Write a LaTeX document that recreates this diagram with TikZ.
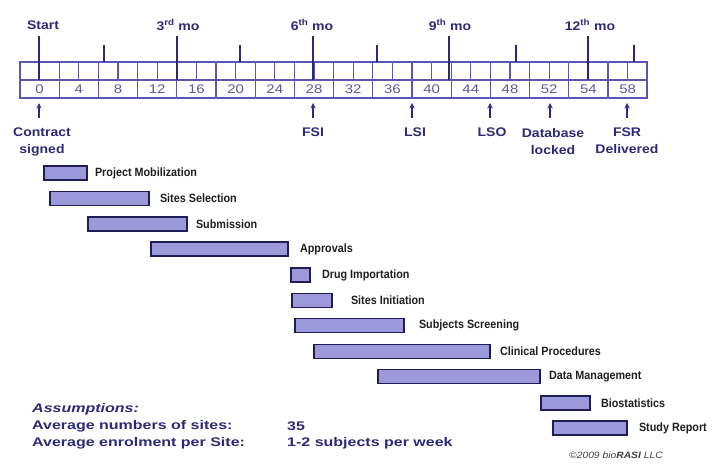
\documentclass[tikz,border=0pt]{standalone}
\usepackage{fontspec}
\setmainfont{Liberation Sans}
\newfontfamily\headfont[FakeStretch=1.12]{Liberation Sans}
\newfontfamily\asmfont[FakeStretch=1.28]{Liberation Sans}
\newfontfamily\numfont[FakeStretch=1.2]{Liberation Sans}
\newfontfamily\barfont[FakeStretch=0.9]{Liberation Sans}
\usepackage{tikz}
\usetikzlibrary{positioning}
\usetikzlibrary{arrows}
\definecolor{navy}{HTML}{2A2A78}
\definecolor{gridblue}{HTML}{5B56B0}
\definecolor{numblue}{HTML}{5A5A9E}
\definecolor{barfill}{HTML}{9C99DA}
\definecolor{barline}{HTML}{1F1D55}
\tikzstyle{arrow} = [thick,->,>=stealth,draw=navy,line width=1.4pt]
\tikzstyle{grid} = [draw=gridblue,line width=1.2pt]
\tikzstyle{tick} = [draw=navy,line width=1.6pt]
\tikzstyle{head} = [text=navy,inner sep=0pt,font=\headfont\bfseries\fontsize{12.5}{17}\selectfont]
\tikzstyle{milestone} = [head,align=center,anchor=north]
\tikzstyle{cellnum} = [text=numblue,inner sep=0pt,font=\numfont\fontsize{12.5}{14}\selectfont]
\tikzstyle{bar} = [draw=barline,fill=barfill,line width=1.8pt,minimum height=14pt,inner sep=0pt,anchor=west]
\tikzstyle{task} = [text=black!88,inner sep=0pt,font=\barfont\bfseries\fontsize{12}{14}\selectfont]
\tikzstyle{asm} = [text=navy,inner sep=0pt,anchor=west,font=\asmfont\bfseries\fontsize{12.5}{14}\selectfont]

\begin{document}
\begin{tikzpicture}[x=1pt,y=-1pt]
  \useasboundingbox (0,0) rectangle (722,467);

  % Time scale
  \draw[grid] (20,62) rectangle (647,98);
  \draw[grid] (20,80) -- (647,80);
  \foreach \i in {1,...,31}
    \draw[grid] (20+19.6*\i,62) -- (20+19.6*\i,80);
  \foreach \i in {1,...,15}
    \draw[grid] (20+39.2*\i,80) -- (20+39.2*\i,98);
  \foreach \w [count=\i from 0] in {0,4,8,12,16,20,24,28,32,36,40,44,48,52,54,58}
    \node[cellnum] (c\w) at (39.6+39.2*\i,89) {\w};

  % Month marks
  \node[head] (start) at (43,25) {Start};
  \node[head] (mo3) at (178,25) {3\textsuperscript{rd} mo};
  \node[head] (mo6) at (312,25) {6\textsuperscript{th} mo};
  \node[head] (mo9) at (450,25) {9\textsuperscript{th} mo};
  \node[head] (mo12) at (590,25) {12\textsuperscript{th} mo};
  \foreach \x in {39,177,313,449,588}
    \draw[tick] (\x,36) -- (\x,80);
  \foreach \x in {104,240,377,516,634}
    \draw[tick] (\x,45) -- (\x,62);

  % Milestones
  \coordinate (a0) at (39,103);
  \coordinate (a28) at (313,103);
  \coordinate (a38) at (412,103);
  \coordinate (a46) at (490,103);
  \coordinate (a52) at (550,103);
  \coordinate (a58) at (627,103);
  \node[milestone] (contract) at (42,128) {Contract\\signed};
  \node[milestone] (fsi) at (313,128) {FSI};
  \node[milestone] (lsi) at (415,128) {LSI};
  \node[milestone] (lso) at (492,128) {LSO};
  \node[milestone] (dblock) at (553,128) {Database\\locked};
  \node[milestone] (fsr) at (627,128) {FSR\\Delivered};
  \draw[arrow,shorten <=10pt] (contract.north -| a0) -- (a0);
  \draw[arrow,shorten <=10pt] (fsi.north -| a28) -- (a28);
  \draw[arrow,shorten <=10pt] (lsi.north -| a38) -- (a38);
  \draw[arrow,shorten <=10pt] (lso.north -| a46) -- (a46);
  \draw[arrow,shorten <=10pt] (dblock.north -| a52) -- (a52);
  \draw[arrow,shorten <=10pt] (fsr.north -| a58) -- (a58);

  % Tasks
  \node[bar,minimum width=43pt] (mobil) at (43,173) {};
  \node[task,right=7pt of mobil] (mobiltxt) {Project Mobilization};
  \node[bar,minimum width=99pt] (select) at (49,198.5) {};
  \node[task,right=10pt of select] (selecttxt) {Sites Selection};
  \node[bar,minimum width=99pt] (submit) at (87,224) {};
  \node[task,right=8pt of submit] (submittxt) {Submission};
  \node[bar,minimum width=137pt] (approve) at (150,249) {};
  \node[task,right=11pt of approve] (approvetxt) {Approvals};
  \node[bar,minimum width=19pt] (drug) at (290,275) {};
  \node[task,right=11pt of drug] (drugtxt) {Drug Importation};
  \node[bar,minimum width=40pt] (init) at (291,300.5) {};
  \node[task,right=18pt of init] (inittxt) {Sites Initiation};
  \node[bar,minimum width=109pt] (screen) at (294,325.5) {};
  \node[task,right=14pt of screen] (screentxt) {Subjects Screening};
  \node[bar,minimum width=176pt] (clinic) at (313,351.5) {};
  \node[task,right=9pt of clinic] (clinictxt) {Clinical Procedures};
  \node[bar,minimum width=162pt] (datamgmt) at (377,376.5) {};
  \node[task,right=8pt of datamgmt] (datamgmttxt) {Data Management};
  \node[bar,minimum width=49pt] (biostat) at (540,403) {};
  \node[task,right=10pt of biostat] (biostattxt) {Biostatistics};
  \node[bar,minimum width=74pt] (report) at (552,428) {};
  \node[task,right=11pt of report] (reporttxt) {Study Report};

  % Assumptions
  \node[asm] (assume) at (32,409) {\itshape Assumptions:};
  \node[asm] (sites) at (32,426) {Average numbers of sites:};
  \node[asm] (enrol) at (32,443) {Average enrolment per Site:};
  \node[asm] (nsites) at (287,426) {35};
  \node[asm] (rate) at (287,443) {1-2 subjects per week};

  \node[anchor=west,inner sep=0pt,text=black!75,font=\headfont\fontsize{9.2}{11}\selectfont] (copy) at (569,455) {\itshape\textcopyright2009 bio\textbf{RASI} LLC};
\end{tikzpicture}
\end{document}
